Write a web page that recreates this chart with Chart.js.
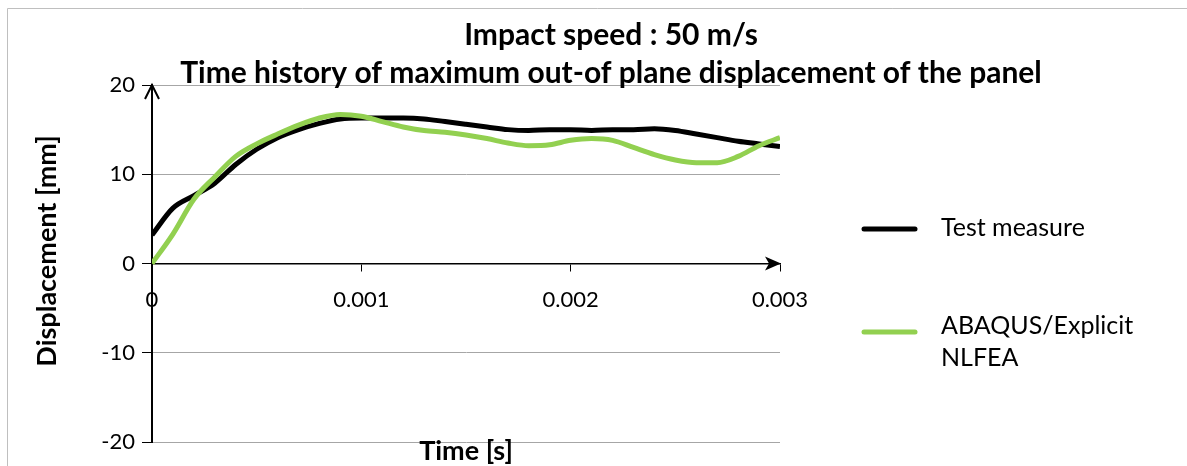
<!DOCTYPE html>
<html>
<head>
<meta charset="utf-8">
<script src="https://cdn.jsdelivr.net/npm/chart.js@4"></script>
<style>
    body { margin: 0; background: #fff; }
    #wrap { width: 1187px; height: 466px; }
</style>
</head>
<body>
<div id="wrap"><canvas id="chart" width="1187" height="466"></canvas></div>
<script>
// ===== DATA =====
const timeSec = [0, 0.0001, 0.0002, 0.0003, 0.0004, 0.0005, 0.0006, 0.0007, 0.0008, 0.0009,
    0.001, 0.0011, 0.0012, 0.0013, 0.0014, 0.0015, 0.0016, 0.0017, 0.0018, 0.0019,
    0.002, 0.0021, 0.0022, 0.0023, 0.0024, 0.0025, 0.0026, 0.0027, 0.0028, 0.0029, 0.003];

const testMeasure = [3.2, 6.2, 7.6, 9.0, 11.1, 12.8, 14.1, 15.0, 15.7, 16.2,
    16.3, 16.3, 16.3, 16.2, 15.9, 15.6, 15.3, 15.0, 14.9, 15.0,
    15.0, 14.9, 15.0, 15.0, 15.1, 14.9, 14.5, 14.1, 13.7, 13.4, 13.1];

const abaqusNlfea = [0, 3.3, 7.2, 9.7, 12.0, 13.4, 14.5, 15.5, 16.3, 16.7,
    16.5, 15.9, 15.3, 14.9, 14.7, 14.4, 14.0, 13.5, 13.2, 13.3,
    13.8, 14.0, 13.8, 13.0, 12.2, 11.6, 11.3, 11.3, 12.0, 13.2, 14.1];

const xTicks = [0, 0.001, 0.002, 0.003];
const yTicks = [-20, -10, 0, 10, 20];

const titleLines = ['Impact speed : 50 m/s', 'Time history of maximum out-of plane displacement of the panel'];
const yTitle = 'Displacement [mm]';
const xTitle = 'Time [s]';
const seriesNames = ['Test measure', ['ABAQUS/Explicit', 'NLFEA']];
const seriesColors = ['#000000', '#92d050'];

const FONT = "Lato, 'Open Sans', sans-serif";

function toPoints(values) {
    return timeSec.map((t, i) => ({ x: t, y: values[i] }));
}

// ===== DECORATION PLUGIN =====
// frame, titles, axis titles, arrows and legend
const decorPlugin = {
    id: 'decor',
    afterDraw(chart) {
        const ctx = chart.ctx;
        const xs = chart.scales.x;
        const ys = chart.scales.y;
        ctx.save();

        // outer frame
        ctx.strokeStyle = '#bfbfbf';
        ctx.lineWidth = 1;
        ctx.beginPath();
        ctx.moveTo(7.5, 470);
        ctx.lineTo(7.5, 8.5);
        ctx.lineTo(1200, 8.5);
        ctx.stroke();

        // titles
        ctx.fillStyle = '#000';
        ctx.textAlign = 'center';
        ctx.textBaseline = 'middle';
        ctx.font = 'bold 30px ' + FONT;
        ctx.fillText(titleLines[0], 611, 35);
        ctx.fillText(titleLines[1], 611, 73);

        // axis titles
        ctx.font = 'bold 27px ' + FONT;
        ctx.fillText(xTitle, (xs.left + xs.right) / 2, 451);
        ctx.save();
        ctx.translate(47, 251);
        ctx.rotate(-Math.PI / 2);
        ctx.fillText(yTitle, 0, 0);
        ctx.restore();

        // arrow on y axis (top)
        const ax = xs.getPixelForValue(0);
        const ayTop = ys.getPixelForValue(20);
        ctx.strokeStyle = '#000';
        ctx.lineWidth = 2;
        ctx.beginPath();
        ctx.moveTo(ax - 7, ayTop + 14);
        ctx.lineTo(ax, ayTop);
        ctx.lineTo(ax + 7, ayTop + 14);
        ctx.stroke();

        // arrow on x axis (right)
        const bx = xs.getPixelForValue(0.003);
        const by = ys.getPixelForValue(0);
        ctx.fillStyle = '#000';
        ctx.beginPath();
        ctx.moveTo(bx + 1, by);
        ctx.lineTo(bx - 15, by - 7);
        ctx.lineTo(bx - 11, by);
        ctx.lineTo(bx - 15, by + 7);
        ctx.closePath();
        ctx.fill();

        // legend
        const legendRows = [{ y: 229, textY: [228] }, { y: 332, textY: [326, 358] }];
        ctx.lineCap = 'round';
        ctx.lineWidth = 5;
        ctx.font = '25px ' + FONT;
        ctx.textAlign = 'left';
        legendRows.forEach((row, i) => {
            ctx.strokeStyle = seriesColors[i];
            ctx.beginPath();
            ctx.moveTo(864, row.y);
            ctx.lineTo(915, row.y);
            ctx.stroke();
            const lines = [].concat(seriesNames[i]);
            ctx.fillStyle = '#000';
            lines.forEach((txt, j) => ctx.fillText(txt, 941, row.textY[j]));
        });

        ctx.restore();
    }
};

// ===== CHART =====
new Chart(document.getElementById('chart'), {
    type: 'line',
    data: {
        datasets: [
            {
                label: 'Test measure',
                data: toPoints(testMeasure),
                borderColor: seriesColors[0],
                borderWidth: 5,
                pointRadius: 0,
                tension: 0.4,
                cubicInterpolationMode: 'monotone',
                order: 1
            },
            {
                label: 'ABAQUS/Explicit NLFEA',
                data: toPoints(abaqusNlfea),
                borderColor: seriesColors[1],
                borderWidth: 5,
                pointRadius: 0,
                tension: 0.4,
                cubicInterpolationMode: 'monotone',
                order: 0
            }
        ]
    },
    options: {
        responsive: false,
        animation: false,
        devicePixelRatio: 1,
        layout: {
            padding: { left: 0, top: 85, right: 407, bottom: 24 }
        },
        plugins: {
            legend: { display: false },
            title: { display: false },
            tooltip: { enabled: false }
        },
        scales: {
            x: {
                type: 'linear',
                position: { y: 0 },
                min: 0,
                max: 0.003,
                afterBuildTicks: (scale) => {
                    scale.ticks = xTicks.map(v => ({ value: v }));
                },
                ticks: {
                    color: '#000',
                    padding: 16,
                    font: { size: 22, family: FONT },
                    callback: (v) => String(v)
                },
                grid: {
                    drawOnChartArea: false,
                    drawTicks: true,
                    tickLength: 7,
                    tickColor: '#000'
                },
                border: { color: '#000', width: 1.5 }
            },
            y: {
                min: -20,
                max: 20,
                afterBuildTicks: (scale) => {
                    scale.ticks = yTicks.map(v => ({ value: v }));
                },
                afterFit: (scale) => {
                    scale.width = 152;
                },
                ticks: {
                    color: '#000',
                    padding: 7,
                    font: { size: 22, family: FONT }
                },
                grid: {
                    color: '#a6a6a6',
                    lineWidth: 1,
                    tickLength: 10,
                    tickColor: '#000'
                },
                border: { color: '#000', width: 2 }
            }
        }
    },
    plugins: [decorPlugin]
});
</script>
</body>
</html>
